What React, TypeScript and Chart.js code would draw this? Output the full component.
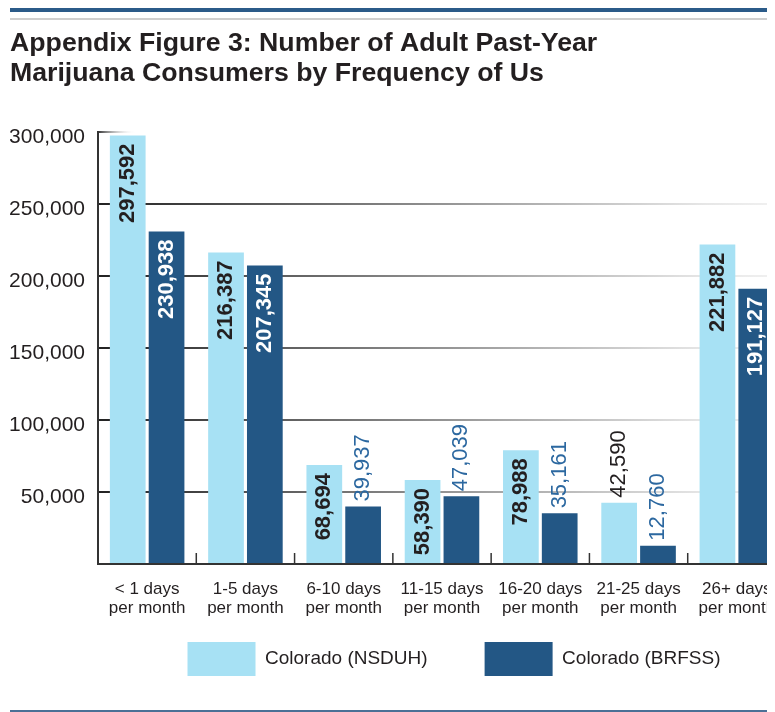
import React, { useEffect, useRef } from "react";
import { Chart, registerables } from "chart.js";

Chart.register(...registerables);

const FONT = '"Liberation Sans", Arial, Helvetica, sans-serif';

const titleLines = [
  "Appendix Figure 3: Number of Adult Past-Year",
  "Marijuana Consumers by Frequency of Us",
];
const categories = [
  ["< 1 days", "per month"],
  ["1-5 days", "per month"],
  ["6-10 days", "per month"],
  ["11-15 days", "per month"],
  ["16-20 days", "per month"],
  ["21-25 days", "per month"],
  ["26+ days", "per month"],
];
const seriesNames = ["Colorado (NSDUH)", "Colorado (BRFSS)"];
const nsduhValues = [297592, 216387, 68694, 58390, 78988, 42590, 221882];
const brfssValues = [230938, 207345, 39937, 47039, 35161, 12760, 191127];
const yMax = 300000;
const yStep = 50000;

const LIGHT = "#a7e1f4";
const DARK = "#235785";
const INK = "#231f20";
const LABEL_BLUE = "#2c68a0";
const insideLabelColors = [INK, "#ffffff"];
const outsideLabelColors = [INK, LABEL_BLUE];

const barValueLabels = {
  id: "barValueLabels",
  afterDatasetsDraw(chart: any) {
    const { ctx } = chart;
    const pad = 8;
    const gap = 5;
    chart.data.datasets.forEach((ds: any, di: number) => {
      const meta = chart.getDatasetMeta(di);
      meta.data.forEach((bar: any, i: number) => {
        const { x, y, base } = bar.getProps(["x", "y", "base"], true);
        const text = Number(ds.data[i]).toLocaleString("en-US");
        ctx.save();
        ctx.font = `bold 22px ${FONT}`;
        const w = ctx.measureText(text).width;
        const h = base - y;
        const inside = w + 12 <= h;
        ctx.translate(x, inside ? y + pad : y - gap);
        ctx.rotate(-Math.PI / 2);
        ctx.textBaseline = "middle";
        if (inside) {
          ctx.textAlign = "right";
          ctx.fillStyle = insideLabelColors[di];
        } else {
          ctx.font = `22px ${FONT}`;
          ctx.textAlign = "left";
          ctx.fillStyle = outsideLabelColors[di];
        }
        ctx.fillText(text, 0, 0);
        ctx.restore();
      });
    });
  },
};

const categoryTicks = {
  id: "categoryTicks",
  afterDatasetsDraw(chart: any) {
    const xs = chart.scales.x;
    const { ctx, chartArea } = chart;
    const n = chart.data.labels.length;
    const step = xs.getPixelForValue(1) - xs.getPixelForValue(0);
    ctx.save();
    ctx.strokeStyle = "#333333";
    ctx.lineWidth = 1.5;
    for (let i = 1; i < n; i++) {
      const px = xs.getPixelForValue(i) - step / 2;
      ctx.beginPath();
      ctx.moveTo(px, chartArea.bottom);
      ctx.lineTo(px, chartArea.bottom - 11);
      ctx.stroke();
    }
    ctx.restore();
  },
};

// nudge the legend block: the reference sets it a little right of the plot centre
// and closer to the axis labels than the item spacing would give
const legendNudge = {
  id: "legendNudge",
  afterLayout(chart: any) {
    const lg = chart.legend;
    if (lg) {
      lg.left += 12;
      lg.right += 12;
      lg.top -= 49;
      lg.bottom -= 49;
    }
  },
};

export default function App() {
  const ref = useRef<HTMLCanvasElement | null>(null);

  useEffect(() => {
    if (!ref.current) return;
    const chart = new Chart(ref.current, {
      type: "bar",
      data: {
        labels: categories,
        datasets: [
          {
            label: seriesNames[0],
            data: nsduhValues,
            backgroundColor: LIGHT,
            borderWidth: 0,
            categoryPercentage: 0.79,
            barPercentage: 0.92,
          },
          {
            label: seriesNames[1],
            data: brfssValues,
            backgroundColor: DARK,
            borderWidth: 0,
            categoryPercentage: 0.79,
            barPercentage: 0.92,
          },
        ],
      },
      options: {
        animation: false,
        responsive: true,
        maintainAspectRatio: false,
        layout: { padding: { left: 2, right: 12, top: 0, bottom: 3 } },
        plugins: {
          title: {
            display: true,
            text: titleLines,
            align: "start",
            color: INK,
            font: { family: FONT, size: 26.7, weight: "bold", lineHeight: 30 / 26.7 },
            padding: { top: 7, bottom: 43 },
          },
          legend: {
            position: "bottom",
            fullSize: false,
            labels: {
              boxWidth: 68,
              boxHeight: 34,
              padding: 57,
              color: INK,
              font: { family: FONT, size: 19 },
            },
          },
          tooltip: { enabled: false },
        },
        scales: {
          x: {
            grid: { display: false, drawTicks: false },
            border: { display: true, color: "#333333", width: 2 },
            ticks: {
              color: INK,
              font: { family: FONT, size: 17, lineHeight: 19 / 17 },
              padding: 16,
              autoSkip: false,
              maxRotation: 0,
              minRotation: 0,
            },
          },
          y: {
            min: 0,
            max: yMax,
            grid: {
              lineWidth: 2,
              drawTicks: false,
              color: (c: any) => {
                const chart = c.chart;
                const area = chart.chartArea;
                const v = c.tick ? c.tick.value : null;
                if (!area || v === 0) return "rgba(0,0,0,0)";
                const g = chart.ctx.createLinearGradient(area.left, 0, area.right, 0);
                if (v === yMax) {
                  g.addColorStop(0, "#333333");
                  g.addColorStop(0.055, "rgba(255,255,255,0)");
                  g.addColorStop(1, "rgba(255,255,255,0)");
                } else {
                  g.addColorStop(0, "#222222");
                  g.addColorStop(0.3, "#666666");
                  g.addColorStop(0.6, "#aaaaaa");
                  g.addColorStop(0.88, "#e6e6e6");
                  g.addColorStop(1, "#f2f2f2");
                }
                return g;
              },
            },
            border: { display: true, color: "#333333", width: 2 },
            ticks: {
              stepSize: yStep,
              color: INK,
              font: { family: FONT, size: 21 },
              padding: 13,
              labelOffset: 5,
              callback: (v: any) => (Number(v) === 0 ? "" : Number(v).toLocaleString("en-US")),
            },
            afterFit: (scale: any) => {
              scale.width = 88;
            },
          },
        },
      },
      plugins: [barValueLabels, categoryTicks, legendNudge],
    });
    return () => chart.destroy();
  }, []);

  return (
    <div
      style={{
        position: "relative",
        width: 767,
        height: 704,
        overflow: "hidden",
      }}
    >
      <div
        style={{
          position: "absolute",
          top: 0,
          left: 2,
          right: 0,
          height: 4,
          background: "#2b5b89",
        }}
      />
      <div
        style={{
          position: "absolute",
          top: 10,
          left: 2,
          right: 0,
          height: 2,
          background: "#cfcfcf",
        }}
      />
      <div
        style={{
          position: "absolute",
          top: 14,
          left: 0,
          width: 790,
          height: 716,
        }}
      >
        <canvas ref={ref} />
      </div>
      <div
        style={{
          position: "absolute",
          top: 702,
          left: 2,
          right: 0,
          height: 2,
          background: "#4b7096",
        }}
      />
    </div>
  );
}
